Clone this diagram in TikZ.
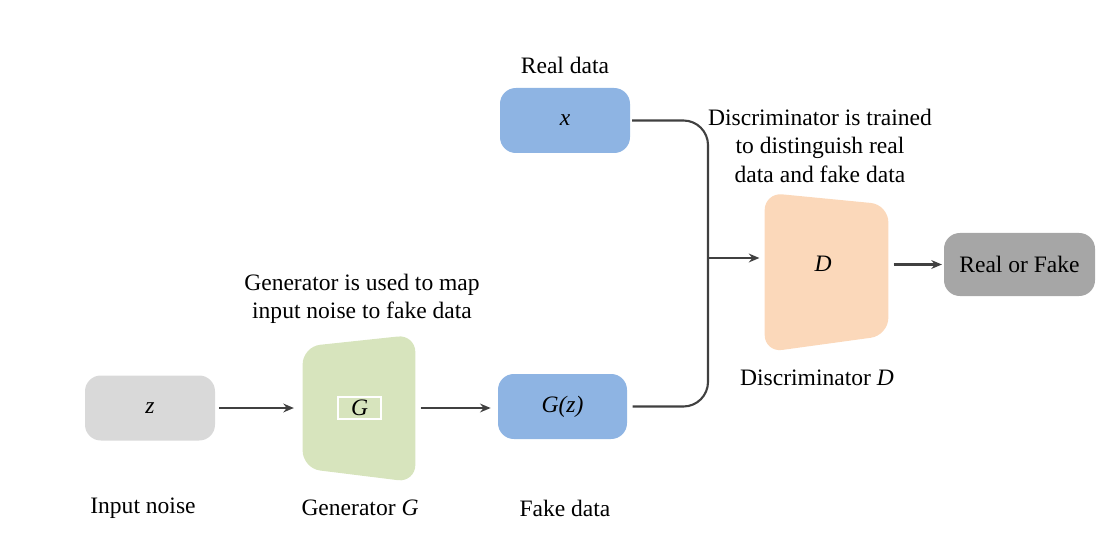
\documentclass[tikz,border=0pt]{standalone}
\usepackage{fontspec}
\setmainfont{Liberation Serif}
\usetikzlibrary{backgrounds,arrows.meta}
\definecolor{noisegray}{HTML}{D9D9D9}
\definecolor{datablue}{HTML}{8EB4E3}
\definecolor{gengreen}{HTML}{D7E4BD}
\definecolor{discpeach}{HTML}{FBD8BA}
\definecolor{outgray}{HTML}{A6A6A6}
\definecolor{linegray}{HTML}{404040}
\begin{document}
\begin{tikzpicture}[x=0.02cm,y=-0.02cm,
    font=\fontsize{13.4}{16.2}\selectfont,
    >={Stealth[length=6pt,width=5pt]}]
  \tikzstyle{box}=[rounded corners=9,minimum width=130*0.02cm,minimum height=65*0.02cm,inner sep=0pt]
  \tikzstyle{arr}=[->,draw=linegray,fill=linegray,line width=1.2pt]
  \tikzstyle{label}=[align=center,inner sep=0pt]
  \useasboundingbox (0,0) rectangle (1120,544);
  % boxes
  \node[box,fill=noisegray] (z) at (150,408) {\textit{z}};
  \node[box,fill=datablue] (x) at (565,120.5) {\textit{x}};
  \node[box,fill=datablue,minimum width=129*0.02cm] (Gz) at (562.5,406.5) {\textit{G(z)}};
  \node[box,fill=outgray,minimum width=151*0.02cm,minimum height=63*0.02cm] (rf) at (1019.5,264.5) {Real or Fake};
  % generator and discriminator
  \node[minimum width=112*0.02cm,minimum height=147*0.02cm,inner sep=0pt] (G) at (359,408.5) {};
  \node[minimum width=123*0.02cm,minimum height=159*0.02cm,inner sep=0pt] (D) at (826.5,272.5) {};
  \begin{scope}[on background layer]
    \fill[gengreen,rounded corners=10] ([yshift=-12*0.02cm]G.north west) -- (G.north east)
      -- (G.south east) -- ([yshift=14*0.02cm]G.south west) -- cycle;
    \fill[discpeach,rounded corners=10] (D.north west) -- ([yshift=-12*0.02cm]D.north east)
      -- ([yshift=17*0.02cm]D.south east) -- (D.south west) -- cycle;
  \end{scope}
  \node[draw=white,line width=0.6pt,minimum width=43*0.02cm,minimum height=22*0.02cm,inner sep=0pt] (Gin) at (359.5,408) {\textit{G}};
  \node (Dtxt) at (823,264) {\textit{D}};
  % texts
  \node[label] (lz) at (143,508) {Input noise};
  \node[label] (lG) at (360,508) {Generator \textit{G}};
  \node[label] (lGz) at (565,508) {Fake data};
  \node[label] (lx) at (565,65) {Real data};
  \node[label] (lD) at (817,378) {Discriminator \textit{D}};
  \node[label] (tG) at (362,299) {Generator is used to map\\input noise to fake data};
  \node[label] (tD) at (820,145.5) {Discriminator is trained\\to distinguish real\\data and fake data};
  % connectors
  \coordinate (join) at (708,258);
  \draw[arr,shorten <=2pt,shorten >=5pt] (z.east) -- (z.east -| G.west);
  \draw[arr,shorten <=3pt,shorten >=4pt] (G.east |- z.east) -- (z.east -| Gz.west);
  \draw[draw=linegray,line width=1.2pt,rounded corners=14,shorten <=1pt,shorten >=3pt]
    (x.east) -| (join) |- (Gz.east);
  \draw[arr,shorten >=3pt] (join) -- (join -| D.west);
  \draw[arr,shorten <=3pt,shorten >=1pt] (D.east |- rf.west) -- (rf.west);
\end{tikzpicture}
\end{document}
